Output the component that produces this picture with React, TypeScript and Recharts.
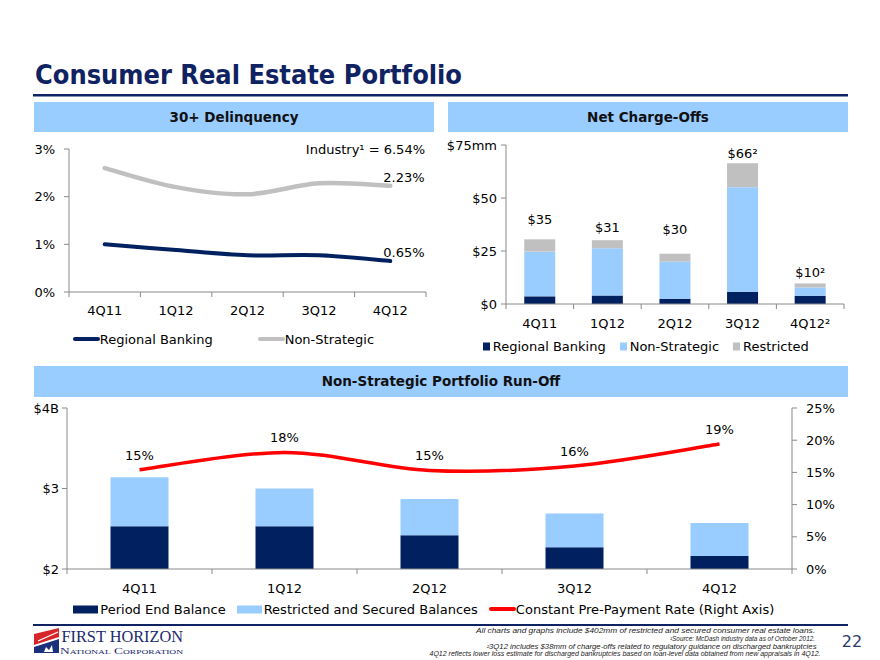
import { Bar, ComposedChart, LabelList, Legend, Line, LineChart, XAxis, YAxis } from "recharts";

const quarters = ["4Q11", "1Q12", "2Q12", "3Q12", "4Q12"];

// 30+ delinquency, %
const regionalDelinquency = [1.0, 0.88, 0.77, 0.77, 0.65];
const nonStrategicDelinquency = [2.6, 2.2, 2.05, 2.28, 2.23];

// net charge-offs, $mm
const chargeOffQuarters = ["4Q11", "1Q12", "2Q12", "3Q12", "4Q12²"];
const regionalChargeOffs = [3.6, 4.0, 2.5, 5.8, 3.9];
const nonStrategicChargeOffs = [21.1, 22.3, 17.5, 49.3, 3.9];
const restrictedChargeOffs = [5.8, 3.8, 3.7, 11.3, 1.9];
const chargeOffTotals = [35, 31, 30, 66, 10];
const chargeOffNotes = ["", "", "", "²", "²"];

// non-strategic run-off, $B and CPR %
const periodEndBalance = [2.53, 2.53, 2.42, 2.27, 2.16];
const restrictedSecured = [0.61, 0.47, 0.45, 0.42, 0.41];
const prepaymentRate = [15.4, 18.1, 15.3, 16.0, 19.4];

const delinquencyData = quarters.map((q, i) => ({
    q,
    regional: regionalDelinquency[i],
    nonStrategic: nonStrategicDelinquency[i],
}));

const chargeOffData = chargeOffQuarters.map((q, i) => ({
    q,
    regional: regionalChargeOffs[i],
    nonStrategic: nonStrategicChargeOffs[i],
    restricted: restrictedChargeOffs[i],
    total: chargeOffTotals[i],
    totalText: `$${chargeOffTotals[i]}${chargeOffNotes[i]}`,
}));

const runOffData = quarters.map((q, i) => ({
    q,
    periodEnd: periodEndBalance[i],
    restricted: restrictedSecured[i],
    cpr: prepaymentRate[i],
}));

const FONT = '"DejaVu Sans", Verdana, sans-serif';
const NAVY = "#002060";
const TITLE = "#0f2262";
const LIGHT_BLUE = "#99ccff";
const GRAY = "#c0c0c0";
const RED = "#ff0000";
const AXIS = "#8a8a8a";

// Excel-style smoothed line (Catmull-Rom through the points)
const excelSmooth = (context: any) => {
    let pts: number[][] = [];
    return {
        areaStart() {},
        areaEnd() {},
        lineStart() {
            pts = [];
        },
        point(x: number, y: number) {
            pts.push([+x, +y]);
        },
        lineEnd() {
            if (!pts.length) return;
            context.moveTo(pts[0][0], pts[0][1]);
            for (let i = 0; i < pts.length - 1; i++) {
                const p0 = pts[Math.max(i - 1, 0)];
                const p1 = pts[i];
                const p2 = pts[i + 1];
                const p3 = pts[Math.min(i + 2, pts.length - 1)];
                context.bezierCurveTo(
                    p1[0] + (p2[0] - p0[0]) / 6,
                    p1[1] + (p2[1] - p0[1]) / 6,
                    p2[0] - (p3[0] - p1[0]) / 6,
                    p2[1] - (p3[1] - p1[1]) / 6,
                    p2[0],
                    p2[1]
                );
            }
        },
    };
};

// category label at the centre, tick marks between categories
const quarterTick = (band: number, count: number, dy: number) => (props: any) => {
    const { x, y, payload, index } = props;
    return (
        <g>
            <line x1={x - band / 2} x2={x - band / 2} y1={y} y2={y + 5} stroke={AXIS} />
            {index === count - 1 && <line x1={x + band / 2} x2={x + band / 2} y1={y} y2={y + 5} stroke={AXIS} />}
            <text x={x} y={y + dy} textAnchor="middle" fontSize={13} fill="#000">
                {payload.value}
            </text>
        </g>
    );
};

const LegendIcon = ({ type, color }: { type: string; color: string }) => {
    if (type === "line") {
        return (
            <svg width={27} height={8} style={{ display: "block" }}>
                <line x1={2} y1={4} x2={25} y2={4} stroke={color} strokeWidth={4} strokeLinecap="round" />
            </svg>
        );
    }
    if (type === "square") {
        return (
            <svg width={10} height={9} style={{ display: "block" }}>
                <rect x={0} y={0.5} width={7} height={8} fill={color} />
            </svg>
        );
    }
    return (
        <svg width={27} height={9} style={{ display: "block" }}>
            <rect x={0} y={0.5} width={25} height={8} fill={color} />
        </svg>
    );
};

const makeLegend = (startX: number, gap: number, order: string[]) => (props: any) => {
    const items = (props.payload || [])
        .filter((p: any) => p.type !== "none" && order.includes(p.value))
        .sort((a: any, b: any) => order.indexOf(a.value) - order.indexOf(b.value));
    return (
        <div style={{ display: "flex", alignItems: "center", height: 20, paddingLeft: startX, fontSize: 13, color: "#000", whiteSpace: "nowrap", fontFamily: FONT }}>
            {items.map((p: any) => (
                <span key={p.value} style={{ display: "flex", alignItems: "center", marginRight: gap }}>
                    <LegendIcon type={p.type} color={p.color} />
                    {p.value}
                </span>
            ))}
        </div>
    );
};

const endLabel = (last: number) => (p: any) => {
    if (p.index !== last) return null;
    const x = p.viewBox?.x ?? p.x;
    const y = p.viewBox?.y ?? p.y;
    return (
        <text x={x - 7} y={y - 4} fontSize={13} fill="#000">
            {`${p.value}%`}
        </text>
    );
};

const axisY = { stroke: AXIS };
const tickY = { fill: "#000", fontSize: 13 };

const Decorations = () => (
    <svg width={880} height={660} style={{ position: "absolute", left: 0, top: 0 }}>
        <text x={35} y={83.5} fontSize={27} fontWeight="bold" fill={TITLE} textLength={427} lengthAdjust="spacingAndGlyphs">
            Consumer Real Estate Portfolio
        </text>
        <rect x={33} y={94} width={815} height={2.5} fill={TITLE} />

        <rect x={34} y={102} width={400} height={30} fill={LIGHT_BLUE} />
        <rect x={448} y={102} width={400} height={30} fill={LIGHT_BLUE} />
        <text x={234} y={121.5} textAnchor="middle" fontSize={13.5} fontWeight="bold" fill="#111">
            30+ Delinquency
        </text>
        <text x={648} y={121.5} textAnchor="middle" fontSize={13.5} fontWeight="bold" fill="#111">
            Net Charge-Offs
        </text>

        <rect x={34} y={366} width={814} height={31} fill={LIGHT_BLUE} />
        <text x={441} y={386} textAnchor="middle" fontSize={13.5} fontWeight="bold" fill="#111">
            Non-Strategic Portfolio Run-Off
        </text>

        <text x={425} y={154} textAnchor="end" fontSize={13} fill="#000">
            Industry¹ = 6.54%
        </text>

        <rect x={33} y={624} width={815} height={2} fill={TITLE} />

        {/* logo */}
        <polygon points="34,645 34,634 59,628 59,637" fill="#d7262b" />
        <line x1={38} y1={641} x2={58} y2={632} stroke="#fff" strokeWidth={1.3} />
        <polygon points="34,653 34,647 59,639 59,653" fill="#1c2f7a" />
        <polygon points="44,652 46,647 49,650 52,645 53,652" fill="#fff" />
        <text x={61.5} y={642.3} fontFamily='"Liberation Serif", serif' fontSize={17.5} fill="#1c2a6e" textLength={121.5} lengthAdjust="spacingAndGlyphs">
            FIRST HORIZON
        </text>
        <text x={60} y={654} fontFamily='"Liberation Serif", serif' fontSize={8.5} fontVariant="small-caps" fill="#1c2a6e" textLength={123} lengthAdjust="spacingAndGlyphs">
            National Corporation
        </text>

        {/* footnotes */}
        <g fontFamily='"Liberation Sans", sans-serif' fontStyle="italic" fontSize={6.6} fill="#222" textAnchor="end">
            <text x={815} y={633} textLength={339} lengthAdjust="spacingAndGlyphs">
                All charts and graphs include $402mm of restricted and secured consumer real estate loans.
            </text>
            <text x={815} y={641} textLength={145} lengthAdjust="spacingAndGlyphs">
                ¹Source: McDash industry data as of October 2012.
            </text>
            <text x={816.5} y={649.3} textLength={330} lengthAdjust="spacingAndGlyphs">
                ²3Q12 includes $38mm of charge-offs related to regulatory guidance on discharged bankruptcies
            </text>
            <text x={820.5} y={656.3} textLength={391} lengthAdjust="spacingAndGlyphs">
                4Q12 reflects lower loss estimate for discharged bankruptcies based on loan-level data obtained from new appraisals in 4Q12.
            </text>
        </g>
        <text x={852} y={647} textAnchor="middle" fontSize={16} fill="#2a3a6a">
            22
        </text>
    </svg>
);

const App = () => {
    return (
        <div style={{ position: "absolute", left: 0, top: 0, width: 880, height: 660, background: "#fff", fontFamily: FONT, overflow: "hidden" }}>
            <Decorations />

            {/* 30+ Delinquency */}
            <div style={{ position: "absolute", left: 20, top: 135 }}>
                <LineChart width={420} height={220} data={delinquencyData} margin={{ top: 14, right: 14, left: 0, bottom: 6 }}>
                    <XAxis dataKey="q" height={37} interval={0} padding={{ left: 35.7, right: 35.7 }} axisLine={axisY} tickLine={false} tickSize={0} tickMargin={0} tick={quarterTick(71.4, 5, 23)} />
                    <YAxis width={49} domain={[0, 3]} ticks={[0, 1, 2, 3]} tickFormatter={(v) => `${v}%`} axisLine={axisY} tickLine={axisY} tickSize={5} tickMargin={9} tick={tickY} />
                    <Line dataKey="regional" name="Regional Banking" type={excelSmooth as any} stroke={NAVY} strokeWidth={4} strokeLinecap="round" dot={false} activeDot={false} isAnimationActive={false}>
                        <LabelList dataKey="regional" content={endLabel(4)} />
                    </Line>
                    <Line dataKey="nonStrategic" name="Non-Strategic" type={excelSmooth as any} stroke={GRAY} strokeWidth={4.5} strokeLinecap="round" dot={false} activeDot={false} isAnimationActive={false}>
                        <LabelList dataKey="nonStrategic" content={endLabel(4)} />
                    </Line>
                    <Legend verticalAlign="bottom" align="left" height={20} wrapperStyle={{ left: 0, bottom: 6, width: 420 }} content={makeLegend(52.7, 45, ["Regional Banking", "Non-Strategic"])} />
                </LineChart>
            </div>

            {/* Net Charge-Offs */}
            <div style={{ position: "absolute", left: 440, top: 135 }}>
                <ComposedChart width={440} height={225} data={chargeOffData} margin={{ top: 10, right: 36, left: 0, bottom: 4 }} barCategoryGap="27%">
                    <XAxis dataKey="q" height={32} interval={0} axisLine={axisY} tickLine={false} tickSize={0} tickMargin={0} tick={quarterTick(67.6, 5, 24)} />
                    <YAxis width={66} domain={[0, 75]} ticks={[0, 25, 50, 75]} tickFormatter={(v) => (v === 75 ? "$75mm" : `$${v}`)} axisLine={axisY} tickLine={axisY} tickSize={5} tickMargin={4} tick={tickY} />
                    <Bar dataKey="regional" stackId="nco" name="Regional Banking" fill={NAVY} legendType="square" isAnimationActive={false} />
                    <Bar dataKey="nonStrategic" stackId="nco" name="Non-Strategic" fill={LIGHT_BLUE} legendType="square" isAnimationActive={false} />
                    <Bar dataKey="restricted" stackId="nco" name="Restricted" fill={GRAY} legendType="square" isAnimationActive={false} />
                    <Line dataKey="total" stroke="none" dot={false} activeDot={false} legendType="none" isAnimationActive={false}>
                        <LabelList dataKey="totalText" position="top" offset={6} fill="#000" fontSize={13} />
                    </Line>
                    <Legend verticalAlign="bottom" align="left" height={20} wrapperStyle={{ left: 0, bottom: 4, width: 440 }} content={makeLegend(42.7, 14, ["Regional Banking", "Non-Strategic", "Restricted"])} />
                </ComposedChart>
            </div>

            {/* Non-Strategic Portfolio Run-Off */}
            <div style={{ position: "absolute", left: 20, top: 395 }}>
                <ComposedChart width={860} height={225} data={runOffData} margin={{ top: 13, right: 28, left: 0, bottom: 1 }} barCategoryGap="30%">
                    <XAxis dataKey="q" height={30} interval={0} axisLine={axisY} tickLine={false} tickSize={0} tickMargin={0} tick={quarterTick(145, 5, 24)} />
                    <YAxis yAxisId="left" width={47} domain={[2, 4]} ticks={[2, 3, 4]} allowDataOverflow tickFormatter={(v) => (v === 4 ? "$4B" : `$${v}`)} axisLine={axisY} tickLine={axisY} tickSize={5} tickMargin={3} tick={tickY} />
                    <YAxis yAxisId="right" orientation="right" width={60} domain={[0, 25]} ticks={[0, 5, 10, 15, 20, 25]} tickFormatter={(v) => `${v}%`} axisLine={axisY} tickLine={axisY} tickSize={5} tickMargin={9} tick={tickY} />
                    <Bar yAxisId="left" dataKey="periodEnd" stackId="run" name="Period End Balance" fill={NAVY} legendType="rect" isAnimationActive={false} />
                    <Bar yAxisId="left" dataKey="restricted" stackId="run" name="Restricted and Secured Balances" fill={LIGHT_BLUE} legendType="rect" isAnimationActive={false} />
                    <Line yAxisId="right" dataKey="cpr" name="Constant Pre-Payment Rate (Right Axis)" type={excelSmooth as any} stroke={RED} strokeWidth={3.5} dot={false} activeDot={false} legendType="line" isAnimationActive={false}>
                        <LabelList dataKey="cpr" position="top" offset={10} fill="#000" fontSize={13} formatter={(v: any) => `${Math.round(v)}%`} />
                    </Line>
                    <Legend verticalAlign="bottom" align="left" height={20} wrapperStyle={{ left: 0, bottom: 1, width: 860 }} content={makeLegend(53.3, 11, ["Period End Balance", "Restricted and Secured Balances", "Constant Pre-Payment Rate (Right Axis)"])} />
                </ComposedChart>
            </div>
        </div>
    );
};

export default App;
